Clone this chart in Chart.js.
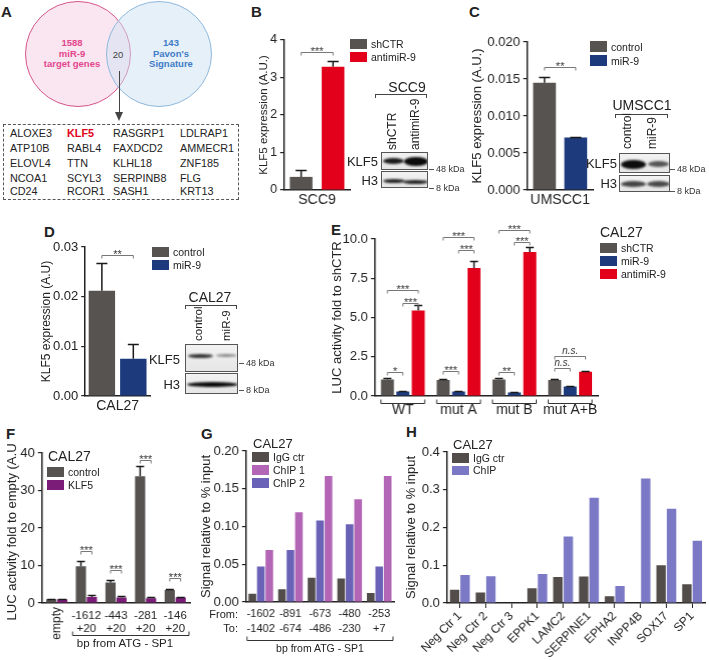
<!DOCTYPE html>
<html>
<head>
<meta charset="utf-8">
<script src="https://cdn.jsdelivr.net/npm/chart.js@4.4.1/dist/chart.umd.min.js"></script>
<style>
body{margin:0;width:709px;height:660px;position:relative;background:#fff;overflow:hidden;
  font-family:Arial,"Liberation Sans",sans-serif;color:#222}
.a{position:absolute;white-space:nowrap;line-height:1}
.pl{position:absolute;font-weight:bold;font-size:15px;line-height:1}
.blot{position:absolute;border:1px solid #555;background:linear-gradient(#f2f2f2,#e6e6e6);overflow:hidden;box-sizing:border-box}
.band{position:absolute;border-radius:50%;filter:blur(1px)}
canvas{position:absolute}
</style>
</head>
<body>
<script>
// ---- data ----
const genes = [
  ['ALOXE3', 'KLF5', 'RASGRP1', 'LDLRAP1'],
  ['ATP10B', 'RABL4', 'FAXDCD2', 'AMMECR1'],
  ['ELOVL4', 'TTN', 'KLHL18', 'ZNF185'],
  ['NCOA1', 'SCYL3', 'SERPINB8', 'FLG'],
  ['CD24', 'RCOR1', 'SASH1', 'KRT13']
];

const bCats = ['SCC9'];
const bShCTR = [0.35], bShCTRErr = [0.53];
const bAnti = [3.29], bAntiErr = [3.45];

const cCats = ['UMSCC1'];
const cControl = [0.0145], cControlErr = [0.0153];
const cMiR = [0.0071], cMiRErr = [0.0072];

const dCats = ['CAL27'];
const dControl = [0.0212], dControlErr = [0.0267];
const dMiR = [0.0075], dMiRErr = [0.0105];

const eCats = ['WT', 'mut A', 'mut B', 'mut A+B'];
const eShCTR = [1.05, 1.02, 1.05, 1.02], eShCTRErr = [1.15, 1.07, 1.12, 1.07];
const eMiR = [0.28, 0.28, 0.22, 0.6], eMiRErr = [0.33, 0.31, 0.25, 0.62];
const eAnti = [5.45, 8.15, 9.17, 1.55], eAntiErr = [5.8, 8.6, 9.5, 1.62];

const fCats = [['empty'], ['-1612', '+20'], ['-443', '+20'], ['-281', '+20'], ['-146', '+20']];
const fControl = [1.0, 9.8, 5.5, 33.8, 3.5], fControlErr = [1.2, 11.2, 6.1, 36.6, 3.7];
const fKLF5 = [1.0, 1.6, 1.5, 1.3, 1.5], fKLF5Err = [1.2, 2.2, 1.8, 1.5, 1.7];

const gCats = [['-1602', '-1402'], ['-891', '-674'], ['-673', '-486'], ['-480', '-230'], ['-253', '+7']];
const gIgG = [0.011, 0.017, 0.032, 0.031, 0.012];
const gChIP2 = [0.047, 0.069, 0.108, 0.103, 0.047];
const gChIP1 = [0.069, 0.119, 0.167, 0.136, 0.167];

const hCats = ['Neg Ctr 1', 'Neg Ctr 2', 'Neg Ctr 3', 'EPPK1', 'LAMC2', 'SERPINE1', 'EPHA2', 'INPP4B', 'SOX17', 'SP1'];
const hIgG = [0.035, 0.028, 0, 0.039, 0.069, 0.07, 0.018, 0, 0.10, 0.05];
const hChIP = [0.074, 0.071, 0, 0.077, 0.176, 0.279, 0.045, 0.33, 0.25, 0.165];

// ---- colours ----
const GRAY = '#575351', RED = '#e2001a', NAVY = '#1d3a7c', PURPLE = '#7c1c79';
const G_GRAY = '#524d4a', CHIP1 = '#b466b6', CHIP2 = '#6a62b6', H_CHIP = '#7b78c6';
const FONT = 'Arial, "Liberation Sans", sans-serif';

Chart.defaults.font.family = FONT;
Chart.defaults.color = '#222';

// ---- html helpers ----
function el(cls, css, text) {
  const d = document.createElement('div');
  d.className = cls;
  d.style.cssText = css;
  if (text != null) d.textContent = text;
  document.body.appendChild(d);
  return d;
}
// anchor: l / c / r, y is vertical centre
function txt(x, y, s, css, anchor) {
  const tx = anchor === 'c' ? '-50%' : anchor === 'r' ? '-100%' : '0';
  return el('a', `left:${x}px;top:${y}px;transform:translate(${tx},-50%);${css || ''}`, s);
}
// vertical text reading upward, starting at yBottom, centred on x
function vtxt(x, yBottom, s, size) {
  return el('a', `left:${x - size / 2}px;top:${yBottom}px;font-size:${size}px;transform-origin:0 0;transform:rotate(-90deg)`, s);
}
function hline(x1, x2, y, css) {
  return el('a', `left:${x1}px;top:${y}px;width:${x2 - x1}px;height:0;border-top:1px solid #333;${css || ''}`);
}
function capBracket(x1, x2, y) {
  return el('a', `left:${x1}px;top:${y}px;width:${x2 - x1}px;height:4px;border:1px solid #444;border-bottom:0;box-sizing:border-box`);
}
function legend(x, y, items, pitch, size) {
  items.forEach((it, i) => {
    el('a', `left:${x}px;top:${y + i * pitch}px;width:17px;height:${pitch - 3}px;background:${it[1]}`);
    txt(x + 21, y + i * pitch + (pitch - 3) / 2, it[0], `font-size:${size}px`);
  });
}
function blot(x, y, w, h, bands) {
  const b = el('blot', `left:${x}px;top:${y}px;width:${w}px;height:${h}px`);
  bands.forEach(bd => {
    const d = document.createElement('div');
    d.className = 'band';
    d.style.cssText = `left:${bd[0] - x}px;top:${bd[1] - y - bd[3] / 2}px;width:${bd[2]}px;height:${bd[3]}px;background:${bd[4]}`;
    b.appendChild(d);
  });
}
function kda(x, y, s) {
  hline(x, x + 5, y, 'border-top-color:#555');
  txt(x + 7, y, s, 'font-size:9px;color:#333');
}

// ---- chart plugin: error bars, significance brackets, brackets under axis ----
const marks = {
  id: 'marks',
  afterDatasetsDraw(chart, args, o) {
    const ctx = chart.ctx, ys = chart.scales.y, xs = chart.scales.x;
    ctx.save();
    (o.errs || []).forEach((arr, i) => {
      const meta = chart.getDatasetMeta(i);
      arr.forEach((e, j) => {
        const bar = meta.data[j];
        const v = chart.data.datasets[i].data[j];
        if (e == null || e <= v) return;
        const yt = Math.round(ys.getPixelForValue(e)) + 0.5;
        ctx.strokeStyle = '#1a1a1a';
        ctx.lineWidth = 1.5;
        ctx.beginPath();
        ctx.moveTo(bar.x, bar.y);
        ctx.lineTo(bar.x, yt);
        ctx.moveTo(bar.x - o.cap / 2, yt);
        ctx.lineTo(bar.x + o.cap / 2, yt);
        ctx.stroke();
      });
    });
    (o.sig || []).forEach(s => {
      const x1 = chart.getDatasetMeta(s.a[1]).data[s.a[0]].x;
      const x2 = chart.getDatasetMeta(s.b[1]).data[s.b[0]].x;
      const yy = Math.round(ys.getPixelForValue(s.y)) + 0.5;
      ctx.strokeStyle = '#777';
      ctx.lineWidth = 1;
      ctx.beginPath();
      ctx.moveTo(x1, yy + 3);
      ctx.lineTo(x1, yy);
      ctx.lineTo(x2, yy);
      ctx.lineTo(x2, yy + 3);
      ctx.stroke();
      ctx.fillStyle = '#333';
      ctx.textAlign = 'center';
      ctx.textBaseline = 'alphabetic';
      if (s.t === 'n.s.') {
        ctx.font = 'italic 10px ' + FONT;
        ctx.fillText(s.t, (x1 + x2) / 2, yy - 3);
      } else {
        ctx.font = '11px ' + FONT;
        ctx.fillText(s.t, (x1 + x2) / 2, yy + 2);
      }
    });
    const b = chart.chartArea.bottom;
    (o.groups || []).forEach(g => {
      let x1, x2;
      if (g.bars) {
        const first = chart.getDatasetMeta(0).data[g.from];
        const last = chart.getDatasetMeta(chart.data.datasets.length - 1).data[g.to];
        x1 = first.x - first.width / 2;
        x2 = last.x + last.width / 2;
      } else {
        const w = (xs.right - xs.left) / chart.data.labels.length;
        x1 = xs.getPixelForValue(g.from) - w / 2 + 1;
        x2 = xs.getPixelForValue(g.to) + w / 2 - 1;
      }
      const yy = Math.round(b + g.off) + 0.5;
      ctx.strokeStyle = '#333';
      ctx.lineWidth = 1;
      ctx.beginPath();
      ctx.moveTo(x1, yy - 4);
      ctx.lineTo(x1, yy);
      ctx.lineTo(x2, yy);
      ctx.lineTo(x2, yy - 4);
      ctx.stroke();
    });
    (o.vlabels || []).forEach(v => {
      const x = xs.getPixelForValue(v.i);
      ctx.save();
      ctx.translate(x, b + v.off);
      ctx.rotate(-Math.PI / 2);
      ctx.fillStyle = '#222';
      ctx.font = v.size + 'px ' + FONT;
      ctx.textAlign = 'right';
      ctx.textBaseline = 'middle';
      ctx.fillText(v.t, 0, 0);
      ctx.restore();
    });
    ctx.restore();
  }
};

// area = chart area in page pixels; titleX = centre of the y title
function barChart(o) {
  const a = o.area, pt = o.pt || 20, pr = o.pr || 4;
  const titleSize = o.titleSize || 13;
  const yw = a.l - (o.titleX - titleSize * 0.6);
  const W = a.r - a.l + yw + pr;
  const H = a.b - a.t + pt + o.xh;
  const cv = document.createElement('canvas');
  cv.width = W;
  cv.height = H;
  cv.style.cssText = `left:${a.l - yw}px;top:${a.t - pt}px;width:${W}px;height:${H}px`;
  document.body.appendChild(cv);
  const xt = o.xticks || {};
  return new Chart(cv, {
    type: 'bar',
    data: { labels: o.labels, datasets: o.datasets },
    options: {
      responsive: false,
      animation: false,
      events: [],
      layout: { padding: { top: pt, right: pr, left: 0, bottom: 0 } },
      plugins: { legend: { display: false }, tooltip: { enabled: false }, marks: o.marks || {} },
      scales: {
        x: {
          grid: o.xTickMarks
            ? { display: true, drawOnChartArea: false, drawTicks: true, tickLength: 5, color: '#222', offset: false }
            : { display: false, drawTicks: false },
          border: { display: true, color: '#222', width: 1.5 },
          ticks: Object.assign({ color: '#222', font: { size: 14 }, padding: 2, autoSkip: false, maxRotation: 0, minRotation: 0 }, xt),
          afterFit(s) { s.height = o.xh; s.paddingLeft = 0; s.paddingRight = 0; }
        },
        y: {
          min: 0, max: o.max,
          grid: { display: true, drawOnChartArea: false, drawTicks: true, tickLength: 4, color: '#222', lineWidth: 1.2 },
          border: { display: true, color: '#222', width: 1.5 },
          ticks: { stepSize: o.step, color: '#222', font: { size: o.tickSize || 13 }, padding: 3, callback: o.fmt },
          title: { display: true, text: o.title, font: { size: titleSize }, color: '#222', padding: 0 },
          afterFit(s) { s.width = yw; s.paddingTop = 0; s.paddingBottom = 0; }
        }
      }
    },
    plugins: [marks]
  });
}
function ds(data, color, cp, bp) {
  return { data, backgroundColor: color, borderWidth: 0, categoryPercentage: cp, barPercentage: bp };
}

// ---------------- panel letters ----------------
[['A', 1, 4], ['B', 251, 4], ['C', 469, 4], ['D', 44, 224], ['E', 331, 222], ['F', 6, 426], ['G', 201, 426], ['H', 406, 424]]
  .forEach(p => el('pl', `left:${p[1]}px;top:${p[2]}px`, p[0]));

// ---------------- A: venn + gene list ----------------
el('a', 'left:25px;top:1px;width:106px;height:106px;border-radius:50%;border:1.5px solid #d4558c;background:rgba(244,200,222,0.45);box-sizing:border-box');
el('a', 'left:106px;top:1px;width:106px;height:106px;border-radius:50%;border:1.5px solid #8fb8dd;background:rgba(205,226,243,0.5);box-sizing:border-box');
['1588', 'miR-9', 'target genes'].forEach((s, i) => txt(72, 43 + i * 10.5, s, 'font-size:9.5px;font-weight:bold;color:#e2468e', 'c'));
['143', "Pavon's", 'Signature'].forEach((s, i) => txt(171, 43 + i * 10.5, s, 'font-size:9.5px;font-weight:bold;color:#3f7bc6', 'c'));
txt(118, 55, '20', 'font-size:9.5px;color:#444', 'c');
el('a', 'left:118.5px;top:71px;width:0;height:44px;border-left:1.5px solid #444');
el('a', 'left:115px;top:112px;width:0;height:0;border-left:4.5px solid transparent;border-right:4.5px solid transparent;border-top:9px solid #444');
el('a', 'left:3px;top:124px;width:236px;height:76px;border:1px dashed #555;box-sizing:border-box');
const geneX = [10, 67, 113, 180], geneY = [133, 148, 163, 178, 191];
genes.forEach((row, r) => row.forEach((g, c) => {
  const red = g === 'KLF5';
  txt(geneX[c], geneY[r], g, 'font-size:10.8px;' + (red ? 'color:#e2001a;font-weight:bold' : 'color:#222'));
}));

// ---------------- B ----------------
barChart({
  area: { l: 284, r: 350, t: 40, b: 190 }, titleX: 264, titleSize: 11.5, tickSize: 12.5, xh: 22, max: 4, step: 1,
  title: 'KLF5 expression (A.U.)', fmt: v => v,
  labels: bCats,
  datasets: [ds(bShCTR, GRAY, 0.97, 0.71), ds(bAnti, RED, 0.97, 0.71)],
  marks: { cap: 11, errs: [bShCTRErr, bAntiErr], sig: [{ a: [0, 0], b: [0, 1], y: 3.68, t: '***' }] }
});
legend(350, 39, [['shCTR', GRAY], ['antimiR-9', RED]], 13, 10.5);
txt(407, 87, 'SCC9', 'font-size:14px', 'c');
capBracket(375, 427, 94);
vtxt(392, 150, 'shCTR', 12);
vtxt(415, 150, 'antimiR-9', 12);
blot(381, 152, 47, 18, [[382, 160, 21, 6, '#1a1a1a'], [403, 160.5, 24, 9, '#0a0a0a']]);
blot(381, 171, 47, 17, [[382, 180, 22, 4, '#222'], [402, 180.5, 25, 4, '#222']]);
txt(378, 161, 'KLF5', 'font-size:13px', 'r');
txt(378, 180, 'H3', 'font-size:13px', 'r');
kda(429, 169, '48 kDa');
kda(429, 188, '8 kDa');

// ---------------- C ----------------
barChart({
  area: { l: 527, r: 593, t: 42, b: 190 }, titleX: 478, xh: 22, max: 0.02, step: 0.005,
  title: 'KLF5 expression (A.U.)', fmt: v => v.toFixed(3),
  labels: cCats,
  datasets: [ds(cControl, GRAY, 0.95, 0.73), ds(cMiR, NAVY, 0.95, 0.73)],
  marks: { cap: 11, errs: [cControlErr, cMiRErr], sig: [{ a: [0, 0], b: [0, 1], y: 0.0166, t: '**' }] }
});
legend(590, 41, [['control', GRAY], ['miR-9', NAVY]], 14, 10.5);
txt(642, 105, 'UMSCC1', 'font-size:14px', 'c');
capBracket(615, 668, 114);
vtxt(627, 149, 'control', 12);
vtxt(652, 149, 'miR-9', 12);
blot(619, 153, 51, 20, [[620, 163, 25, 9, '#0d0d0d'], [647, 163, 21, 6, '#555']]);
blot(619, 175, 51, 17, [[620, 183, 25, 6, '#444'], [646, 183, 23, 6, '#4a4a4a']]);
txt(617, 163, 'KLF5', 'font-size:13px', 'r');
txt(617, 183, 'H3', 'font-size:13px', 'r');
kda(670, 169, '48 kDa');
kda(670, 191, '8 kDa');

// ---------------- D ----------------
barChart({
  area: { l: 85, r: 150, t: 247, b: 396 }, titleX: 46, titleSize: 12, xh: 22, max: 0.03, step: 0.01,
  title: 'KLF5 expression (A.U)', fmt: v => v.toFixed(2),
  labels: dCats,
  datasets: [ds(dControl, GRAY, 0.97, 0.84), ds(dMiR, NAVY, 0.97, 0.84)],
  marks: { cap: 11, errs: [dControlErr, dMiRErr], sig: [{ a: [0, 0], b: [0, 1], y: 0.0283, t: '**' }] }
});
legend(152, 247, [['control', GRAY], ['miR-9', NAVY]], 13, 10.5);
txt(210, 297, 'CAL27', 'font-size:14px', 'c');
capBracket(185, 237, 305);
vtxt(199, 341, 'control', 11.5);
vtxt(227, 341, 'miR-9', 11.5);
blot(185, 344, 53, 28, [[187, 355, 25, 4, '#333'], [215, 354, 21, 3, '#888']]);
blot(185, 373, 53, 21, [[186, 383.5, 51, 5, '#0a0a0a']]);
txt(180, 359, 'KLF5', 'font-size:13px', 'r');
txt(180, 384, 'H3', 'font-size:13px', 'r');
kda(239, 363, '48 kDa');
kda(239, 390, '8 kDa');

// ---------------- E ----------------
barChart({
  area: { l: 375, r: 598, t: 239, b: 396 }, titleX: 338, xh: 22, max: 10, step: 2.5, pt: 14,
  title: 'LUC activity fold to shCTR', fmt: v => v.toFixed(1),
  labels: eCats, xticks: { padding: 6 },
  datasets: [ds(eShCTR, GRAY, 0.83, 0.84), ds(eMiR, NAVY, 0.83, 0.84), ds(eAnti, RED, 0.83, 0.84)],
  marks: {
    cap: 8, errs: [eShCTRErr, eMiRErr, eAntiErr],
    sig: [
      { a: [0, 0], b: [0, 2], y: 6.75, t: '***' }, { a: [0, 1], b: [0, 2], y: 5.9, t: '***' }, { a: [0, 0], b: [0, 1], y: 1.55, t: '*' },
      { a: [1, 0], b: [1, 2], y: 10.1, t: '***' }, { a: [1, 1], b: [1, 2], y: 9.3, t: '***' }, { a: [1, 0], b: [1, 1], y: 1.6, t: '***' },
      { a: [2, 0], b: [2, 2], y: 10.55, t: '***' }, { a: [2, 1], b: [2, 2], y: 9.8, t: '***' }, { a: [2, 0], b: [2, 1], y: 1.55, t: '**' },
      { a: [3, 0], b: [3, 2], y: 2.55, t: 'n.s.' }, { a: [3, 0], b: [3, 1], y: 1.8, t: 'n.s.' }
    ],
    groups: [0, 1, 2, 3].map(i => ({ from: i, to: i, bars: true, off: 7 }))
  }
});
txt(600, 232, 'CAL27', 'font-size:14px');
legend(600, 243, [['shCTR', GRAY], ['miR-9', NAVY], ['antimiR-9', RED]], 13, 10.5);

// ---------------- F ----------------
barChart({
  area: { l: 42, r: 190, t: 453, b: 603 }, titleX: 13, xh: 57, max: 40, step: 10, pt: 10,
  title: 'LUC activity fold to empty (A.U.)', fmt: v => v,
  labels: fCats, xticks: { padding: 6, font: { size: 11.5, lineHeight: 1.15 }, callback: (v, i) => i === 0 ? '' : fCats[i] },
  datasets: [ds(fControl, GRAY, 0.74, 0.93), ds(fKLF5, PURPLE, 0.74, 0.93)],
  marks: {
    cap: 8, errs: [fControlErr, fKLF5Err],
    sig: [
      { a: [1, 0], b: [1, 1], y: 13.9, t: '***' }, { a: [2, 0], b: [2, 1], y: 8.8, t: '***' },
      { a: [3, 0], b: [3, 1], y: 38.1, t: '***' }, { a: [4, 0], b: [4, 1], y: 6.7, t: '***' }
    ],
    groups: [{ from: 1, to: 4, off: 32 }],
    vlabels: [{ i: 0, t: fCats[0][0], off: 4, size: 12 }]
  }
});
txt(48, 456, 'CAL27', 'font-size:14px');
legend(47, 467, [['control', GRAY], ['KLF5', PURPLE]], 13, 10.5);
txt(125, 644, 'bp from ATG - SP1', 'font-size:11.5px', 'c');

// ---------------- G ----------------
barChart({
  area: { l: 246, r: 394, t: 451, b: 602 }, titleX: 207, xh: 44, max: 0.2, step: 0.05, pt: 10,
  title: 'Signal relative to % input', fmt: v => v.toFixed(2),
  labels: gCats, xticks: { padding: 5, font: { size: 11, lineHeight: 1.35 } },
  datasets: [ds(gIgG, G_GRAY, 0.86, 0.9), ds(gChIP2, CHIP2, 0.86, 0.9), ds(gChIP1, CHIP1, 0.86, 0.9)],
  marks: { groups: [{ from: 0, to: 4, off: 38 }] }
});
txt(253, 443, 'CAL27', 'font-size:13px');
legend(252, 452, [['IgG ctr', G_GRAY], ['ChIP 1', CHIP1], ['ChIP 2', CHIP2]], 13, 10.5);
txt(238, 614, 'From:', 'font-size:11px', 'r');
txt(238, 628, 'To:', 'font-size:11px', 'r');
txt(320, 648, 'bp from ATG - SP1', 'font-size:10.5px', 'c');

// ---------------- H ----------------
barChart({
  area: { l: 447, r: 705, t: 452, b: 603 }, titleX: 412, xh: 57, max: 0.4, step: 0.1, pt: 10, pr: 3,
  title: 'Signal relative to % input', fmt: v => v.toFixed(1),
  labels: hCats, xTickMarks: true,
  xticks: { padding: 1, font: { size: 12 }, maxRotation: 45, minRotation: 45 },
  datasets: [ds(hIgG, G_GRAY, 0.81, 0.9), ds(hChIP, H_CHIP, 0.81, 0.9)],
  marks: {}
});
txt(453, 444, 'CAL27', 'font-size:13px');
legend(452, 453, [['IgG ctr', G_GRAY], ['ChIP', H_CHIP]], 12.5, 10.5);
</script>
</body>
</html>
